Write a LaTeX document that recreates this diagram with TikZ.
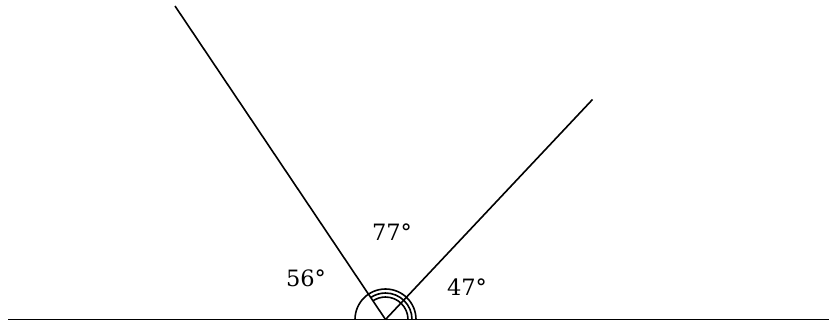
\documentclass[tikz,border=0pt]{standalone}
\usepackage{fontspec}
\setmainfont{DejaVu Serif}
\begin{document}
\begin{tikzpicture}[x=1pt,y=-1pt,
  ln/.style={line width=1.6pt,black},
  lbl/.style={font=\fontsize{22.5}{26}\selectfont,inner sep=0pt}]
\useasboundingbox (0,0) rectangle (829,322);
\coordinate (V) at (385.5,319.5);
\coordinate (L) at (8,319.5);
\coordinate (R) at (829,319.5);
\coordinate (A) at (175,6);
\coordinate (B) at (592.5,99.5);
\draw[ln] (L) -- (R);
\draw[ln] (V) -- (A);
\draw[ln] (V) -- (B);
\draw[ln] ([xshift=30.5pt]V) arc[start angle=0,end angle=180,radius=30.5pt];
\draw[ln] ([xshift=26.5pt]V) arc[start angle=0,end angle=124,radius=26.5pt];
\draw[ln] ([xshift=22.5pt]V) arc[start angle=0,end angle=124,radius=22.5pt];
\node[lbl] (t77) at (392,232) {77°};
\node[lbl] (t56) at (306,278) {56°};
\node[lbl] (t47) at (467,287) {47°};
\end{tikzpicture}
\end{document}
